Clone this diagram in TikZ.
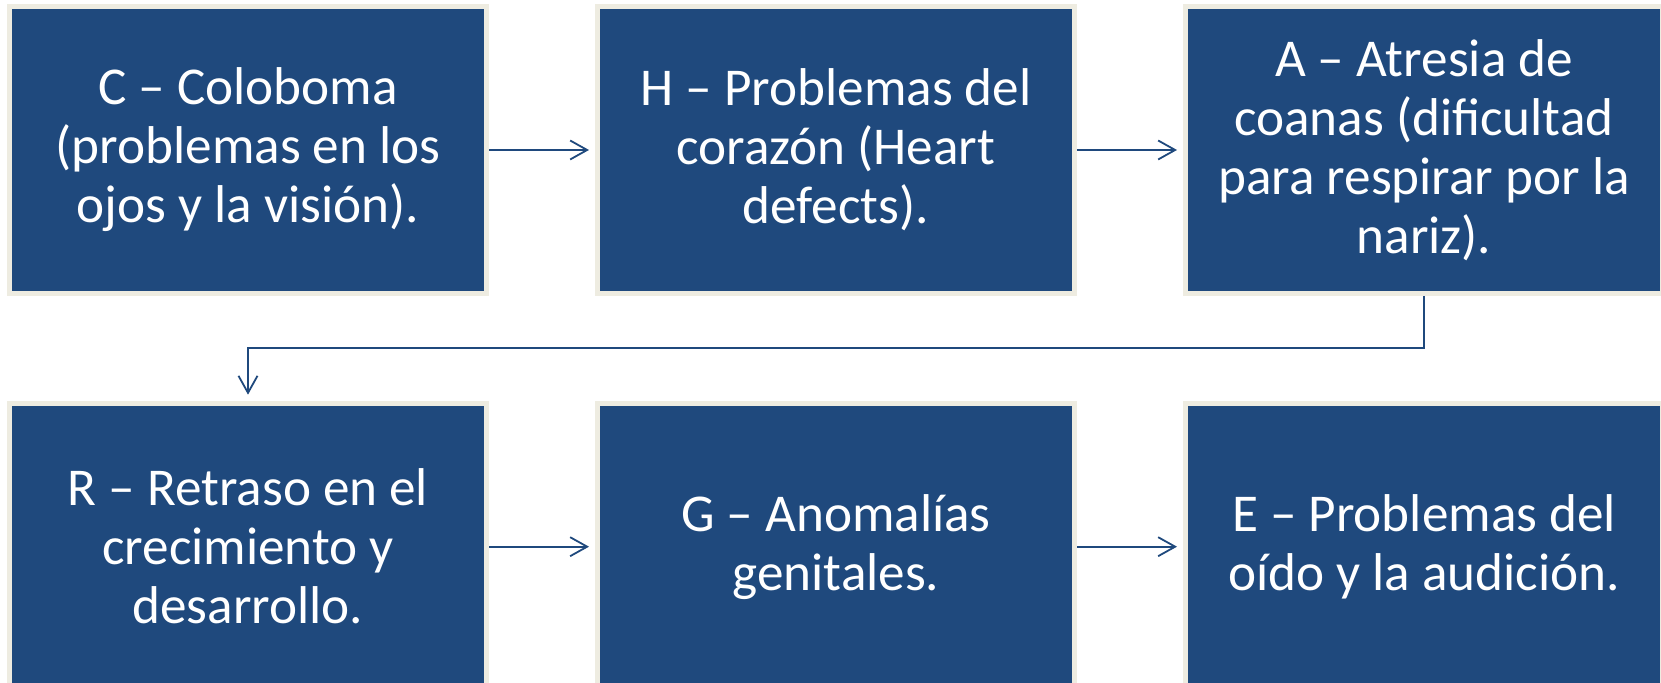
\documentclass[tikz,border=0pt]{standalone}
\usepackage{fontspec}
\setmainfont{Carlito}
\usepackage{tikz}
\usetikzlibrary{arrows.meta,positioning}

\definecolor{azul}{HTML}{1F497D}
\definecolor{crema}{HTML}{EEECE1}

\begin{document}
\begin{tikzpicture}[
		x=0.5pt,y=0.5pt,
		caja/.style={draw=crema, line width=2.5pt, fill=azul, text=white,
			minimum width=238.5pt, minimum height=143.5pt, inner sep=0pt,
			align=center, font=\fontsize{26.6}{29.5}\selectfont},
		flecha/.style={draw=azul, line width=0.9pt,
			-{Straight Barb[length=8.5pt,width=9.5pt]}, shorten >=3pt}
		]
		
		% page size of the reference
		\clip (0,0) rectangle (1661,683);
		
		% =========================
		% Top row: C, H, A
		% =========================
		\node[caja] (col) at (248,533)
		{C -- Coloboma\\(problemas en los\\ojos y la visión).};
		\node[caja] (hea) at (836,533)
		{H -- Problemas del\\corazón (Heart\\defects).};
		\node[caja] (atr) at (1424,533)
		{A -- Atresia de\\coanas (dificultad\\para respirar por la\\nariz).};
		
		% =========================
		% Bottom row: R, G, E
		% =========================
		\node[caja] (ret) at (248,136.3)
		{R -- Retraso en el\\crecimiento y\\desarrollo.};
		\node[caja] (gen) at (836,136.3)
		{G -- Anomalías\\genitales.};
		\node[caja] (ear) at (1424,136.3)
		{E -- Problemas del\\oído y la audición.};
		
		% arrows
		\draw[flecha] (col) -- (hea);
		\draw[flecha] (hea) -- (atr);
		\draw[flecha] (atr.south) -- ++(0,-52) -| (ret.north);
		\draw[flecha] (ret) -- (gen);
		\draw[flecha] (gen) -- (ear);
		
	\end{tikzpicture}
\end{document}
